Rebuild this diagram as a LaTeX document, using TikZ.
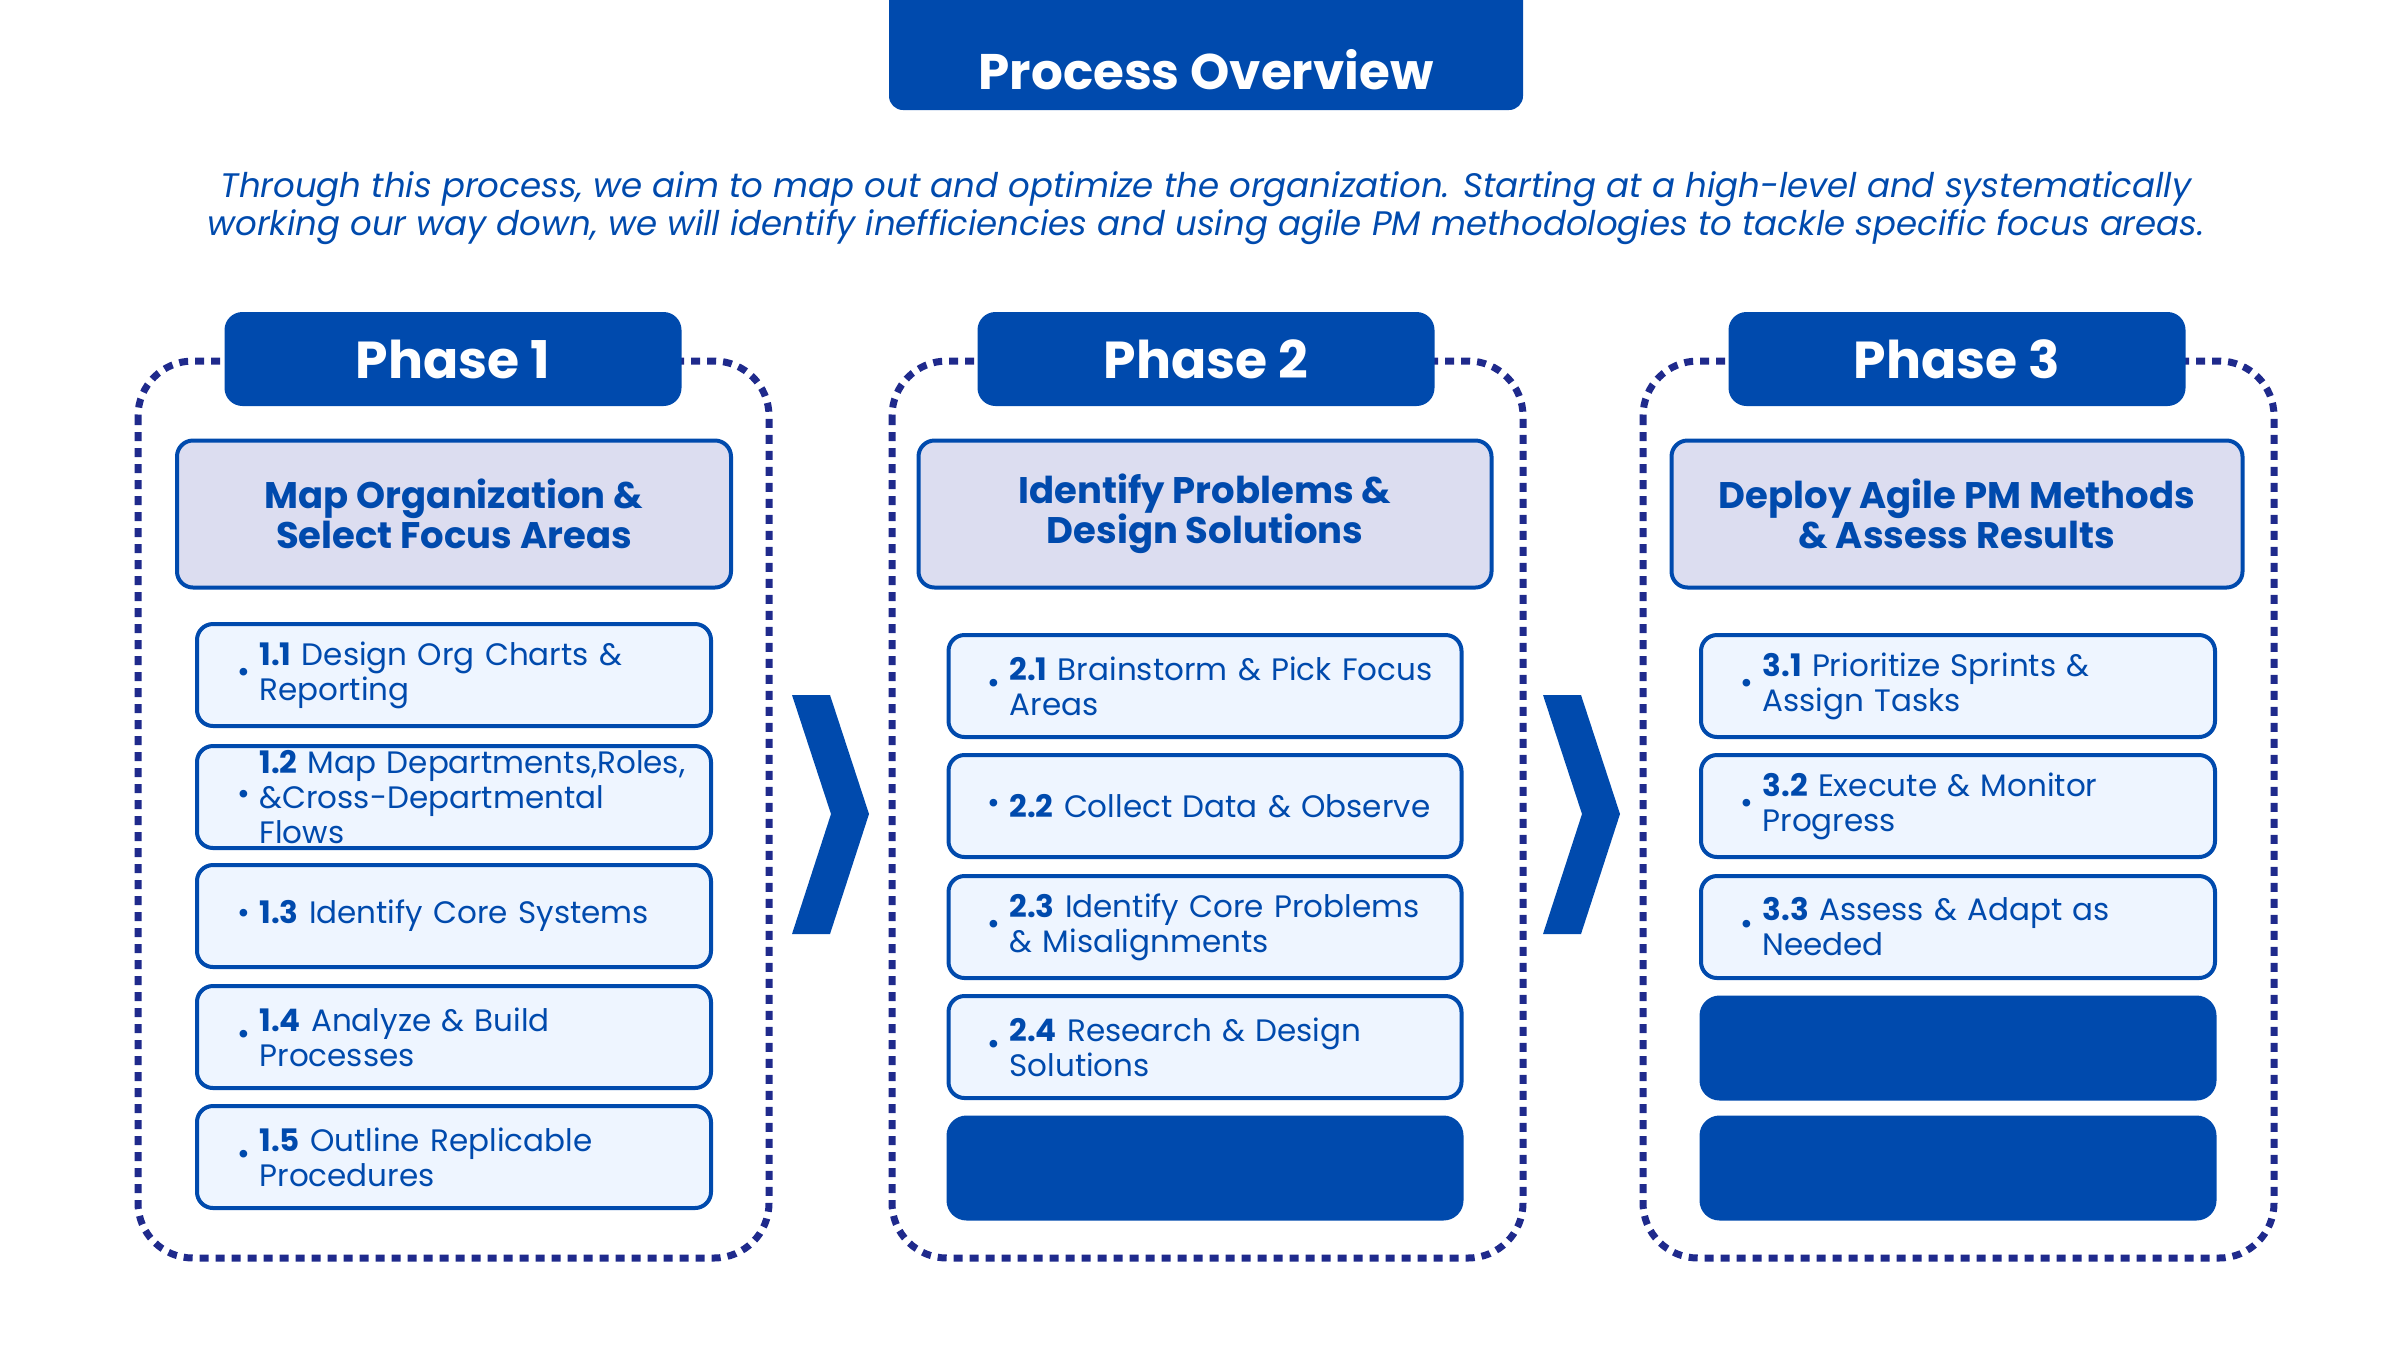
\documentclass[tikz,border=0pt]{standalone}
\usepackage{fontspec}
\setmainfont{Poppins}
\definecolor{mblue}{HTML}{004AAD}
\definecolor{navy}{HTML}{1F2A8C}
\definecolor{tfill}{HTML}{DCDDF0}
\definecolor{ifill}{HTML}{EEF5FF}
\tikzset{
 cont/.style={draw=navy,line width=7pt,dash pattern=on 9pt off 7pt,rounded corners=55pt},
 head/.style={fill=mblue,rounded corners=18pt,text=white,font=\fontsize{52}{60}\selectfont\bfseries},
 tbox/.style={draw=mblue,fill=tfill,line width=4pt,rounded corners=16pt,text=mblue,align=center,font=\fontsize{37}{40}\selectfont\bfseries},
 item/.style={draw=mblue,fill=ifill,line width=4pt,rounded corners=16pt},
 itxt/.style={text=mblue,align=left,anchor=west,font=\fontsize{31}{35}\selectfont,text width=430pt},
 blk/.style={fill=mblue,rounded corners=20pt},
 chev/.style={fill=mblue}
}
\begin{document}
\begin{tikzpicture}[x=1pt,y=-1pt]
\useasboundingbox (0,0) rectangle (2400,1350);
\node[fill=mblue,rounded corners=14pt,minimum width=634pt,minimum height=140pt,anchor=center] (ttl) at (1206,40) {};
\node[text=white,font=\fontsize{50}{56}\selectfont\bfseries] (ttlt) at (1206,70) {Process Overview};
\node[text=mblue,align=center,font=\fontsize{34}{38}\selectfont\itshape] (sub) at (1206,208) {Through this process, we aim to map out and optimize the organization. Starting at a high-level and systematically\\working our way down, we will identify inefficiencies and using agile PM methodologies to tackle specific focus areas.};
% containers
\foreach \x/\n in {138/1,892/2,1643/3}{
 \draw[cont] (\x,361) rectangle ++(631,897);
}
% headers
\foreach \x/\n in {453/1,1206/2,1957/3}{
 \node[head,minimum width=457pt,minimum height=94pt] (h\n) at (\x,359) {Phase \n};
}
\node[tbox,minimum width=554pt,minimum height=147pt] (t1) at (454,514) {Map Organization \&\\Select Focus Areas};
\node[tbox,minimum width=573pt,minimum height=147pt] (t2) at (1205,514) {Identify Problems \&\\Design Solutions};
\node[tbox,minimum width=571pt,minimum height=147pt] (t3) at (1957,514) {Deploy Agile PM Methods\\\& Assess Results};
% phase 1 items
\foreach \y/\n/\t in {675/a/{\textbf{1.1} Design Org Charts \&\\Reporting},797/b/{\textbf{1.2} Map Departments,Roles,\\\&Cross-Departmental Flows},916/c/{\textbf{1.3} Identify Core Systems},1037/d/{\textbf{1.4} Analyze \& Build\\Processes},1157/e/{\textbf{1.5} Outline Replicable\\Procedures}}{
 \node[item,minimum width=514pt,minimum height=102pt] (p1\n) at (454,\y) {};
 \node[text=mblue,font=\fontsize{31}{35}\selectfont] (b1\n) at (244,\y) {•};
 \node[itxt] (x1\n) at (256,\y) {\t};
}
% phase 2 items
\foreach \y/\n/\t in {686/a/{\textbf{2.1} Brainstorm \& Pick Focus\\Areas},806/b/{\textbf{2.2} Collect Data \& Observe},927/c/{\textbf{2.3} Identify Core Problems\\\& Misalignments},1047/d/{\textbf{2.4} Research \& Design\\Solutions}}{
 \node[item,minimum width=513pt,minimum height=102pt] (p2\n) at (1205,\y) {};
 \node[text=mblue,font=\fontsize{31}{35}\selectfont] (b2\n) at (994,\y) {•};
 \node[itxt] (x2\n) at (1006,\y) {\t};
}
\node[blk,minimum width=517pt,minimum height=105pt] (p2e) at (1205,1168) {};
% phase 3 items
\foreach \y/\n/\t in {686/a/{\textbf{3.1} Prioritize Sprints \&\\Assign Tasks},806/b/{\textbf{3.2} Execute \& Monitor\\Progress},927/c/{\textbf{3.3} Assess \& Adapt as\\Needed}}{
 \node[item,minimum width=514pt,minimum height=102pt] (p3\n) at (1958,\y) {};
 \node[text=mblue,font=\fontsize{31}{35}\selectfont] (b3\n) at (1747,\y) {•};
 \node[itxt] (x3\n) at (1759,\y) {\t};
}
\node[blk,minimum width=517pt,minimum height=105pt] (p3d) at (1958,1048) {};
\node[blk,minimum width=517pt,minimum height=105pt] (p3e) at (1958,1168) {};
% chevrons
\fill[chev] (792,695) -- (830,695) -- (869,814) -- (830,934) -- (792,934) -- (831,814) -- cycle;
\fill[chev] (1543,695) -- (1581,695) -- (1620,814) -- (1581,934) -- (1543,934) -- (1582,814) -- cycle;
\end{tikzpicture}
\end{document}
